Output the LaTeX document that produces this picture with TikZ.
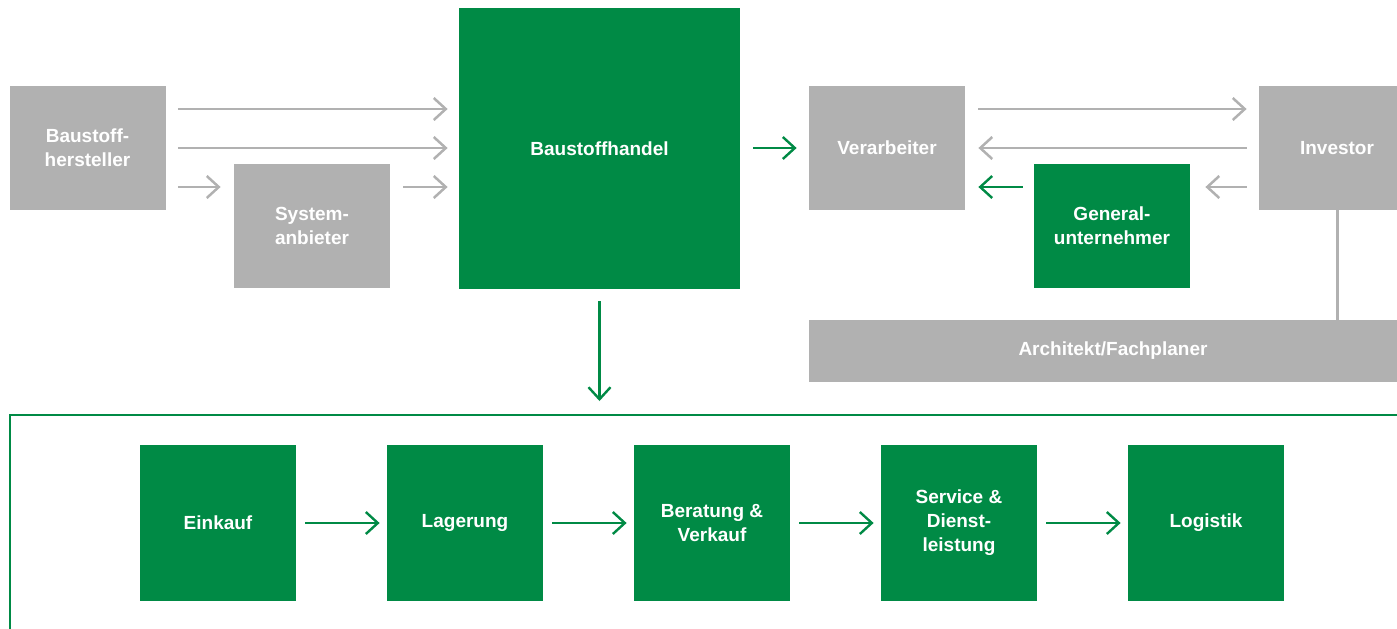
\documentclass[tikz,border=0pt]{standalone}
\usepackage{fontspec}
\setmainfont{Liberation Sans}
\usetikzlibrary{arrows.meta}
\definecolor{bgreen}{HTML}{008A45}
\definecolor{bgrey}{HTML}{B1B1B1}
\tikzset{
  box/.style={rectangle, inner sep=0pt, align=center, text=white,
    font=\fontsize{9.5pt}{12pt}\selectfont\bfseries},
  gbox/.style={box, fill=bgrey},
  grbox/.style={box, fill=bgreen},
  sq/.style={minimum width=78pt, minimum height=62pt},
  tip/.style={-{Straight Barb[length=6pt,width=11pt]}},
  ga/.style={tip, draw=bgrey, line width=1.25pt},
  gra/.style={tip, draw=bgreen, line width=1.2pt},
}
\begin{document}
\begin{tikzpicture}[x=0.5pt, y=-0.5pt]
\useasboundingbox (0,0) rectangle (1397,628);
\clip (0,0) rectangle (1397,628);
% top row
\node[gbox, sq] (hersteller) at (87.5,148) {Baustoff-\\hersteller};
\node[gbox, sq] (system) at (312,226) {System-\\anbieter};
\node[grbox, minimum width=140.5pt, minimum height=140.5pt] (handel) at (599.5,148.5) {Baustoffhandel};
\node[gbox, sq] (verarb) at (887,148) {Verarbeiter};
\node[gbox, sq] (investor) at (1337,148) {Investor};
\node[grbox, sq] (general) at (1112,226) {General-\\unternehmer};
\node[gbox, minimum width=304pt, minimum height=31pt] (architekt) at (1113,351) {Architekt/Fachplaner};
\draw[bgrey, line width=1.5pt] (investor.south) -- (investor.south |- architekt.north);
% arrows left
\draw[ga, shorten <=6pt, shorten >=5.5pt] ([yshift=19.5pt]hersteller.east) -- ([yshift=19.5pt]hersteller.east -| handel.west);
\draw[ga, shorten <=6pt, shorten >=5.5pt] (hersteller.east) -- (hersteller.east -| handel.west);
\draw[ga, shorten <=6pt, shorten >=6.5pt] ([yshift=-19.5pt]hersteller.east) -- ([yshift=-19.5pt]hersteller.east -| system.west);
\draw[ga, shorten <=6.5pt, shorten >=5.5pt] ([yshift=19.5pt]system.east) -- ([yshift=19.5pt]system.east -| handel.west);
% middle
\draw[gra, shorten <=6.5pt, shorten >=6pt] (handel.east |- verarb.west) -- (verarb.west);
% right
\draw[ga, shorten <=6.5pt, shorten >=6pt] ([yshift=19.5pt]verarb.east) -- ([yshift=19.5pt]verarb.east -| investor.west);
\draw[ga, shorten <=6pt, shorten >=6.5pt] (investor.west) -- (verarb.east);
\draw[ga, shorten <=6pt, shorten >=7.5pt] ([yshift=19.5pt]general.east -| investor.west) -- ([yshift=19.5pt]general.east);
\draw[gra, shorten <=5.5pt, shorten >=6.5pt] ([yshift=19.5pt]general.west) -- ([yshift=19.5pt]general.west -| verarb.east);
% frame
\draw[bgreen, line width=1.1pt] (10,700) -- (10,415) -- (1420,415);
\coordinate (ftop) at (599.5,415);
\draw[gra, shorten <=6pt, shorten >=7pt] (handel.south) -- (ftop);
% bottom row
\node[grbox, minimum width=78pt, minimum height=78pt] (einkauf) at (218,523) {Einkauf};
\node[grbox, minimum width=78pt, minimum height=78pt] (lagerung) at (465,523) {Lagerung};
\node[grbox, minimum width=78pt, minimum height=78pt] (beratung) at (712,523) {Beratung \&\\Verkauf};
\node[grbox, minimum width=78pt, minimum height=78pt] (service) at (959,523) {Service \&\\Dienst-\\leistung};
\node[grbox, minimum width=78pt, minimum height=78pt] (logistik) at (1206,523) {Logistik};
\foreach \a/\b in {einkauf/lagerung, lagerung/beratung, beratung/service, service/logistik}
  \draw[gra, shorten <=4.5pt, shorten >=3.5pt] (\a.east) -- (\b.west);
\end{tikzpicture}
\end{document}
